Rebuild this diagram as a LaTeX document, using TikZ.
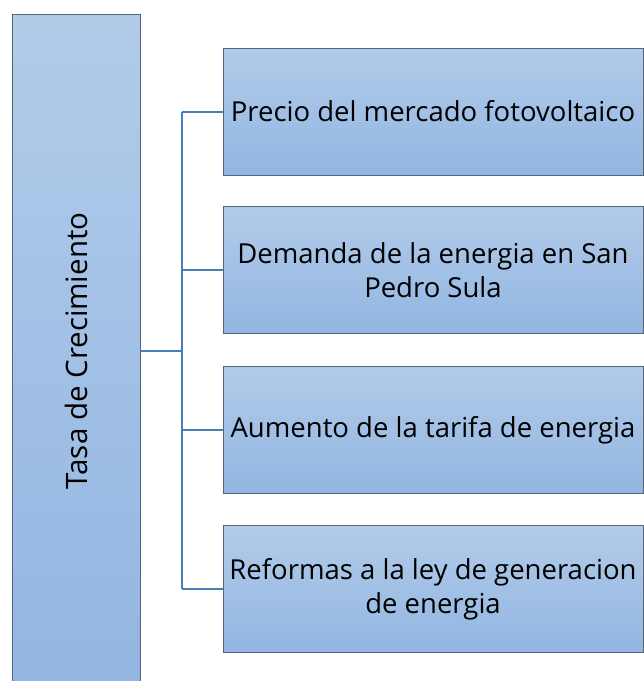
\documentclass[tikz,border=0pt]{standalone}
\usepackage{fontspec}
\setmainfont{Open Sans}
\definecolor{boxtop}{HTML}{B2CBE9}
\definecolor{boxbot}{HTML}{92B6E2}
\definecolor{boxline}{HTML}{56667A}
\definecolor{linkblue}{HTML}{4A7EBB}
\begin{document}
\begin{tikzpicture}[
    x=1pt, y=-1pt,
    mainbox/.style={draw=boxline, line width=1pt, top color=boxtop, bottom color=boxbot, minimum width=128pt, minimum height=674pt, inner sep=0pt},
    itembox/.style={draw=boxline, line width=1pt, top color=boxtop, bottom color=boxbot, minimum width=420pt, minimum height=127pt, align=center, inner sep=0pt, font=\fontsize{27.5}{34}\selectfont},
    link/.style={draw=linkblue, line width=2pt},
]
\clip (0,0) rectangle (644,681);

% --- Left: main box ---
\node[mainbox] (tasa) at (76.5, 351.5) {};
\node[rotate=90, font=\fontsize{29.5}{34}\selectfont] (tasalbl) at (76.5, 351) {Tasa de Crecimiento};

% --- Right: factor boxes ---
\node[itembox] (precio) at (433, 111.5) {Precio del mercado fotovoltaico};
\node[itembox] (demanda) at (433, 270) {Demanda de la energia en San\\Pedro Sula};
\node[itembox] (tarifa) at (433, 430) {Aumento de la tarifa de energia};
\node[itembox] (reformas) at (433, 589) {Reformas a la ley de generacion\\de energia};

% --- Connector ---
\coordinate (split) at (182, 351);
\draw[link] (tasa.east |- split) -- (split);
\draw[link] (split |- precio.west) -- (split |- reformas.west);
\draw[link] (split |- precio.west) -- (precio.west);
\draw[link] (split |- demanda.west) -- (demanda.west);
\draw[link] (split |- tarifa.west) -- (tarifa.west);
\draw[link] (split |- reformas.west) -- (reformas.west);

\end{tikzpicture}
\end{document}
